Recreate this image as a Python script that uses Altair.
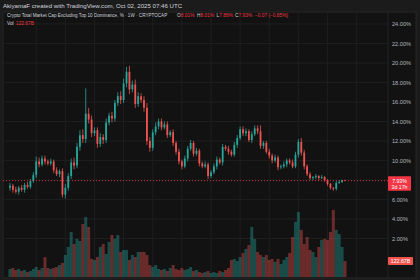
import altair as alt
import pandas as pd

# ---------------- data ----------------
closes = [7.4, 7.0, 6.8, 7.2, 7.0, 7.5, 7.3, 7.9, 8.5, 9.9,
          9.6, 10.2, 9.9, 9.7, 9.9, 9.0, 8.6, 8.9, 6.5, 7.2,
          8.4, 9.8, 9.5, 11.4, 12.6, 12.2, 14.8, 14.2, 12.8, 13.1,
          11.7, 12.4, 12.1, 13.9, 14.6, 14.3, 15.9, 16.6, 16.2, 17.9,
          19.1, 17.3, 17.8, 15.8, 16.6, 16.2, 15.4, 12.0, 11.3, 12.9,
          13.5, 14.0, 13.4, 13.7, 12.6, 12.9, 11.8, 10.9, 9.9, 9.4,
          10.2, 11.2, 11.8, 10.7, 11.0, 9.7, 9.4, 9.6, 8.4, 8.8,
          9.4, 10.1, 9.8, 11.4, 11.2, 10.9, 10.6, 11.6, 12.3, 13.2,
          12.8, 13.0, 12.1, 12.7, 13.3, 13.0, 11.5, 11.8, 10.9, 10.5,
          10.0, 10.3, 9.3, 9.4, 9.6, 10.0, 9.8, 9.4, 10.6, 11.9,
          10.8, 9.4, 8.6, 8.2, 8.3, 8.4, 8.2, 8.3, 8.0, 7.6,
          7.2, 7.1, 7.7, 7.8, 8.01, 7.93]
first_open = 7.2
wick_up = [0.3, 0.2, 0.3, 0.2, 0.3, 0.2, 0.3, 0.2, 0.3, 0.5,
           0.4, 0.3, 0.3, 0.2, 0.3, 0.2, 0.3, 0.2, 0.3, 0.4,
           0.3, 0.4, 0.5, 0.4, 0.5, 0.6, 2.6, 0.6, 0.4, 0.3,
           0.3, 0.4, 0.3, 0.4, 0.3, 0.4, 0.3, 0.4, 0.5, 0.5,
           0.5, 0.6, 0.4, 0.5, 0.4, 0.3, 0.4, 0.5, 0.4, 0.3,
           0.4, 0.3, 0.3, 0.3, 0.3, 0.2, 0.3, 0.2, 0.3, 0.2,
           0.3, 0.3, 0.3, 0.2, 0.3, 0.2, 0.2, 0.3, 0.2, 0.2,
           0.3, 0.3, 0.2, 0.3, 0.2, 0.3, 0.2, 0.3, 0.3, 0.3,
           0.3, 0.3, 0.2, 0.3, 0.3, 0.3, 0.6, 0.2, 0.2, 0.3,
           0.2, 0.3, 0.2, 0.2, 0.3, 0.2, 0.2, 0.3, 0.3, 0.3,
           0.4, 0.3, 0.2, 0.2, 0.1, 0.2, 0.1, 0.2, 0.1, 0.1,
           0.1, 0.1, 0.2, 0.2, 0.0, 0.0]
wick_down = [0.3, 0.3, 0.2, 0.3, 0.2, 0.3, 0.2, 0.2, 0.2, 0.3,
             0.3, 0.2, 0.3, 0.2, 0.2, 0.3, 0.2, 0.3, 0.3, 0.4,
             0.3, 0.3, 0.4, 0.3, 0.4, 0.4, 0.4, 0.4, 0.4, 0.3,
             0.4, 0.3, 0.4, 0.3, 0.3, 0.4, 0.3, 0.3, 0.4, 0.3,
             0.4, 0.5, 0.3, 0.4, 0.3, 0.3, 0.4, 0.4, 0.4, 0.3,
             0.3, 0.3, 0.3, 0.2, 0.3, 0.2, 0.3, 0.3, 0.3, 0.3,
             0.2, 0.3, 0.2, 0.3, 0.2, 0.3, 0.2, 0.2, 0.3, 0.2,
             0.2, 0.3, 0.2, 0.3, 0.2, 0.3, 0.2, 0.2, 0.3, 0.2,
             0.3, 0.3, 0.2, 0.3, 0.2, 0.3, 0.3, 0.3, 0.2, 0.3,
             0.3, 0.2, 0.3, 0.2, 0.2, 0.3, 0.2, 0.2, 0.2, 0.3,
             0.3, 0.3, 0.2, 0.2, 0.2, 0.2, 0.2, 0.1, 0.2, 0.2,
             0.2, 0.2, 0.2, 0.1, 0.1, 0.05]
volumes_b = [62, 69, 54, 62, 46, 54, 38, 46, 62, 77,
             54, 69, 154, 69, 62, 69, 77, 92, 108, 169,
             231, 347, 254, 293, 277, 408, 462, 385, 139, 131,
             154, 231, 254, 177, 270, 323, 293, 323, 193, 208,
             208, 131, 169, 154, 193, 193, 193, 169, 92, 77,
             92, 62, 54, 62, 46, 69, 92, 62, 54, 69,
             54, 62, 77, 46, 54, 38, 31, 38, 46, 31,
             38, 31, 46, 38, 54, 69, 131, 139, 123, 154,
             185, 216, 246, 385, 293, 193, 169, 154, 169, 131,
             139, 116, 139, 100, 131, 154, 185, 308, 424, 501,
             362, 254, 308, 208, 193, 154, 231, 285, 293, 285,
             347, 516, 362, 331, 231, 122.67]

tick_values = [2, 4, 6, 8, 10, 12, 14, 16, 18, 20, 22, 24]
tick_labels = ["2.00%", "4.00%", "6.00%", "8.00%", "10.00%", "12.00%",
               "14.00%", "16.00%", "18.00%", "20.00%", "22.00%", "24.00%"]
time_grid_idx = [9, 19, 29, 39, 49, 59, 69, 79, 89, 99, 109, 119]
last_price = 7.93
last_volume = 122.67

header = "AkiyamaF created with TradingView.com, Oct 02, 2025 07:46 UTC"
title = "Crypto Total Market Cap Excluding Top 10 Dominance, % · 1W · CRYPTOCAP"
ohlc_keys = ["O", "H", "L", "C"]
ohlc_vals = ["8.01%", "8.01%", "7.88%", "7.93%"]
change_txt = "−0.07 (−0.85%)"

# ---------------- build tables ----------------
opens = [first_open] + closes[:-1]
rows = []
for i, (o, c, u, d, v) in enumerate(zip(opens, closes, wick_up, wick_down, volumes_b)):
    rows.append({"i": i, "o": o, "c": c, "h": max(o, c) + u, "l": min(o, c) - d,
                 "v": v, "dir": "up" if c >= o else "down"})
df = pd.DataFrame(rows)
ticks = pd.DataFrame({"v": tick_values, "lab": tick_labels})
vgrid = pd.DataFrame({"g": time_grid_idx})
lastp = pd.DataFrame({"p": [last_price]})
lastv = pd.DataFrame({"p": [last_volume]})
one = pd.DataFrame({"a": [0]})

UP, DOWN = "#26a69a", "#ef5350"
RED = "#f23645"
FONT = "Liberation Sans"

xs = alt.Scale(domain=[0, 115], range=[5, 350], nice=False, zero=False)
ps = alt.Scale(domain=[0, 24], range=[258, 24], nice=False, zero=False)
vs = alt.Scale(domain=[0, 800], range=[277, 173], nice=False, zero=False)
cs = alt.Scale(domain=["up", "down"], range=[UP, DOWN])

def X(f):
    return alt.X(f"{f}:Q", scale=xs, axis=None)

def YP(f):
    return alt.Y(f"{f}:Q", scale=ps, axis=None)

def txt(s, x, y, color, size=5.0, align="left", weight="normal"):
    return alt.Chart(one).mark_text(align=align, baseline="middle", fontSize=size,
                                    font=FONT, color=color, fontWeight=weight).encode(
        x=alt.value(x), y=alt.value(y), text=alt.value(s))

panel = alt.Chart(one).mark_rect(fill="#121212", stroke="#262626", strokeWidth=1).encode(
    x=alt.value(3), x2=alt.value(416), y=alt.value(12), y2=alt.value(278))

hgrid = alt.Chart(ticks).mark_rule(color="#1e1e1e", strokeWidth=1).encode(
    y=YP("v"), x=alt.value(3), x2=alt.value(388))
vgr = alt.Chart(vgrid).mark_rule(color="#1e1e1e", strokeWidth=1).encode(
    x=X("g"), y=alt.value(12), y2=alt.value(278))
sep = alt.Chart(one).mark_rule(color="#222222", strokeWidth=1).encode(
    x=alt.value(388), y=alt.value(12), y2=alt.value(278))

vol = alt.Chart(df).mark_bar(width=3, opacity=0.4).encode(
    x=X("i"), y=alt.Y("v:Q", scale=vs, axis=None), y2=alt.datum(0),
    color=alt.Color("dir:N", scale=cs, legend=None))

wicks = alt.Chart(df).mark_rule(strokeWidth=0.8).encode(
    x=X("i"), y=YP("l"), y2="h:Q", color=alt.Color("dir:N", scale=cs, legend=None))
bodies = alt.Chart(df).mark_bar(width=1.8).encode(
    x=X("i"), y=YP("o"), y2="c:Q", color=alt.Color("dir:N", scale=cs, legend=None))

pline = alt.Chart(lastp).mark_rule(color=RED, strokeWidth=1, strokeDash=[1, 2], opacity=0.8).encode(
    y=YP("p"), x=alt.value(3), x2=alt.value(388))

axis_labels = alt.Chart(ticks).mark_text(align="left", baseline="middle", fontSize=5.6,
                                         font=FONT, color="#b2b5be").encode(
    y=YP("v"), x=alt.value(392), text="lab:N")

pbox = alt.Chart(lastp).mark_rect(color=RED, yOffset=-4.5, y2Offset=10, cornerRadius=1).encode(
    x=alt.value(388), x2=alt.value(411), y=YP("p"), y2="p:Q")
ptxt1 = alt.Chart(lastp).mark_text(align="center", baseline="middle", fontSize=5.2,
                                   font=FONT, color="white").encode(
    x=alt.value(399.5), y=YP("p"), text=alt.value("7.93%"))
ptxt2 = alt.Chart(lastp).mark_text(align="center", baseline="middle", fontSize=5.2, dy=6.5,
                                   font=FONT, color="white").encode(
    x=alt.value(399.5), y=YP("p"), text=alt.value("3d 17h"))

vbox = alt.Chart(lastv).mark_rect(color=DOWN, yOffset=-4, y2Offset=4, cornerRadius=1).encode(
    x=alt.value(388), x2=alt.value(413), y=alt.Y("p:Q", scale=vs, axis=None), y2="p:Q")
vtxt = alt.Chart(lastv).mark_text(align="center", baseline="middle", fontSize=5.2,
                                  font=FONT, color="white").encode(
    x=alt.value(400.5), y=alt.Y("p:Q", scale=vs, axis=None), text=alt.value("122.67B"))

texts = [txt(header, 3, 6, "#d1d4dc", size=6.1),
         txt(title, 7, 16, "#d1d4dc", size=4.6)]
kx = [177, 197, 216.5, 235]
vx = [180.8, 200.6, 219.3, 238.6]
for k, v, a, b in zip(ohlc_keys, ohlc_vals, kx, vx):
    texts.append(txt(k, a, 16, "#d1d4dc", size=4.8))
    texts.append(txt(v, b, 16, RED, size=4.8))
texts.append(txt(change_txt, 255, 16, RED, size=4.8))
texts.append(txt("Vol", 7, 24, "#d1d4dc", size=4.8))
texts.append(txt("122.67B", 16, 24, RED, size=4.8))

chart = alt.layer(
    panel, hgrid, vgr, sep, vol, wicks, bodies, pline, axis_labels,
    pbox, ptxt1, ptxt2, vbox, vtxt, *texts
).resolve_scale(y="independent").properties(
    width=420, height=280,
    autosize=alt.AutoSizeParams(type="none"),
    padding={"left": 0, "right": 0, "top": 0, "bottom": 0},
).configure(background="#1b1b1b").configure_view(stroke=None)

chart.save("out.html", embed_options={"renderer": "svg", "actions": False})
